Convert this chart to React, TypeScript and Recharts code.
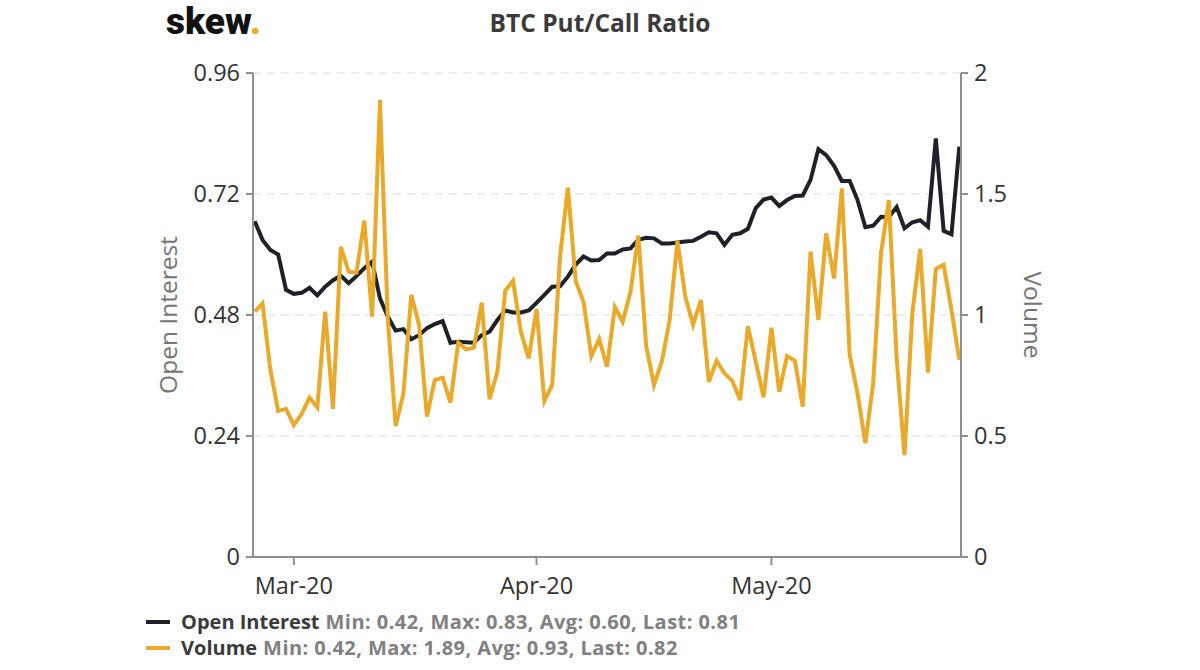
import React from "react";
import { LineChart, Line, XAxis, YAxis, CartesianGrid, Legend } from "recharts";

const FONT = "'Open Sans', sans-serif";

const title = "BTC Put/Call Ratio";
const monthLabels: Record<string, string> = { "2020-03-01": "Mar-20", "2020-04-01": "Apr-20", "2020-05-01": "May-20" };
const xTicks = ["2020-03-01", "2020-04-01", "2020-05-01"];
const leftTicks = [0, 0.24, 0.48, 0.72, 0.96];
const rightTicks = [0, 0.5, 1, 1.5, 2];

const monthSpans: [string, number, number][] = [["02", 25, 29], ["03", 1, 31], ["04", 1, 30], ["05", 1, 25]];
const dates: string[] = [];
monthSpans.forEach(([m, a, b]) => {
  for (let d = a; d <= b; d++) dates.push(`2020-${m}-${String(d).padStart(2, "0")}`);
});

const openInterest = [
  0.666, 0.629, 0.609, 0.600, 0.530, 0.522, 0.524, 0.534, 0.519, 0.536,
  0.549, 0.558, 0.543, 0.557, 0.573, 0.586, 0.513, 0.477, 0.449, 0.452,
  0.432, 0.440, 0.454, 0.462, 0.468, 0.425, 0.427, 0.426, 0.425, 0.440,
  0.447, 0.470, 0.489, 0.485, 0.485, 0.489, 0.504, 0.520, 0.536, 0.537,
  0.556, 0.580, 0.596, 0.588, 0.589, 0.602, 0.602, 0.610, 0.612, 0.629,
  0.633, 0.632, 0.622, 0.622, 0.624, 0.626, 0.627, 0.635, 0.644, 0.642,
  0.619, 0.639, 0.642, 0.651, 0.692, 0.709, 0.713, 0.696, 0.708, 0.716,
  0.717, 0.748, 0.809, 0.797, 0.776, 0.746, 0.746, 0.708, 0.654, 0.657,
  0.675, 0.674, 0.694, 0.652, 0.664, 0.668, 0.655, 0.830, 0.647, 0.640,
  0.814,
];

const volume = [
  1.014, 1.048, 0.773, 0.603, 0.612, 0.545, 0.591, 0.658, 0.618, 1.014,
  0.612, 1.282, 1.179, 1.175, 1.390, 0.993, 1.888, 0.985, 0.541, 0.676,
  1.083, 0.959, 0.580, 0.731, 0.741, 0.638, 0.886, 0.858, 0.865, 1.051,
  0.652, 0.766, 1.100, 1.142, 0.931, 0.821, 1.025, 0.645, 0.711, 1.241,
  1.526, 1.140, 1.055, 0.830, 0.901, 0.786, 1.032, 0.972, 1.096, 1.328,
  0.872, 0.711, 0.807, 0.979, 1.307, 1.076, 0.959, 1.062, 0.724, 0.811,
  0.759, 0.728, 0.649, 0.954, 0.807, 0.660, 0.947, 0.683, 0.830, 0.811,
  0.621, 1.262, 0.979, 1.337, 1.151, 1.523, 0.835, 0.676, 0.470, 0.718,
  1.255, 1.475, 0.820, 0.421, 1.007, 1.273, 0.762, 1.190, 1.207, 1.021,
  0.814,
];

const rows = dates.map((date, i) => ({ date, oi: openInterest[i], vol: volume[i] }));

const legendRows = [
  { name: "Open Interest", color: "#1f2128", stats: "Min: 0.42, Max: 0.83, Avg: 0.60, Last: 0.81" },
  { name: "Volume", color: "#e9a92b", stats: "Min: 0.42, Max: 1.89, Avg: 0.93, Last: 0.82" },
];

const LegendBox = () => (
  <div style={{ fontFamily: FONT, fontWeight: 700, fontSize: 20, lineHeight: "26px" }}>
    {legendRows.map((r) => (
      <div key={r.name} style={{ display: "flex", alignItems: "center", whiteSpace: "nowrap" }}>
        <span style={{ width: 24, height: 4, background: r.color, marginRight: 11, display: "inline-block" }} />
        <span style={{ color: "#3a3a3a" }}>{r.name}</span>
        <span style={{ color: "#808080", marginLeft: 6, letterSpacing: 0.45 }}>{r.stats}</span>
      </div>
    ))}
  </div>
);

const axisLine = { stroke: "#8f8f8f", strokeWidth: 2 };
const tickLine = { stroke: "#8f8f8f", strokeWidth: 2 };
const tickStyle = { fill: "#333333", fontSize: 23.5, fontFamily: FONT };
const labelStyle = { fill: "#757575", fontSize: 24.5, fontFamily: FONT, textAnchor: "middle" as const };

export default function App() {
  return (
    <div style={{ position: "absolute", left: 0, top: 0, width: 1200, height: 670, background: "#fff" }}>
      <div style={{ position: "absolute", left: 166, top: 0, fontFamily: "Roboto, sans-serif", fontWeight: 900, fontSize: 37, color: "#111", lineHeight: "normal" }}>
        skew<span style={{ color: "#e9a92b" }}>.</span>
      </div>
      <div style={{ position: "absolute", left: 400, width: 400, top: 8, textAlign: "center", fontFamily: FONT, fontWeight: 700, fontSize: 24.5, color: "#3a3a3a", lineHeight: "30px" }}>
        {title}
      </div>
      <LineChart width={1200} height={670} data={rows} margin={{ top: 73, bottom: 11, left: 193, right: 179 }}>
        <CartesianGrid yAxisId="left" vertical={false} stroke="#ececec" strokeWidth={2} strokeDasharray="8 6" />
        <XAxis
          dataKey="date"
          ticks={xTicks}
          interval={0}
          tickFormatter={(v: string) => monthLabels[v] ?? ""}
          axisLine={axisLine}
          tickLine={tickLine}
          tickSize={8}
          tickMargin={12}
          tick={tickStyle}
          padding={{ left: 1.7, right: 1.7 }}
          height={50}
        />
        <YAxis
          yAxisId="left"
          width={60}
          domain={[0, 0.96]}
          ticks={leftTicks}
          interval={0}
          axisLine={axisLine}
          tickLine={tickLine}
          tickSize={7}
          tickMargin={6}
          tick={tickStyle}
          label={{ value: "Open Interest", angle: -90, position: "center", dx: -55, style: labelStyle }}
        />
        <YAxis
          yAxisId="right"
          orientation="right"
          width={60}
          domain={[0, 2]}
          ticks={rightTicks}
          interval={0}
          axisLine={axisLine}
          tickLine={tickLine}
          tickSize={7}
          tickMargin={6}
          tick={tickStyle}
          label={{ value: "Volume", angle: 90, position: "center", dx: 42, style: labelStyle }}
        />
        <Legend
          content={<LegendBox />}
          wrapperStyle={{ position: "absolute", left: 146, top: 609, width: 800, bottom: "auto" }}
        />
        <Line yAxisId="left" dataKey="oi" name="Open Interest" type="linear" stroke="#1f2128" strokeWidth={4} dot={false} isAnimationActive={false} />
        <Line yAxisId="right" dataKey="vol" name="Volume" type="linear" stroke="#e9a92b" strokeWidth={4} dot={false} isAnimationActive={false} />
      </LineChart>
    </div>
  );
}
